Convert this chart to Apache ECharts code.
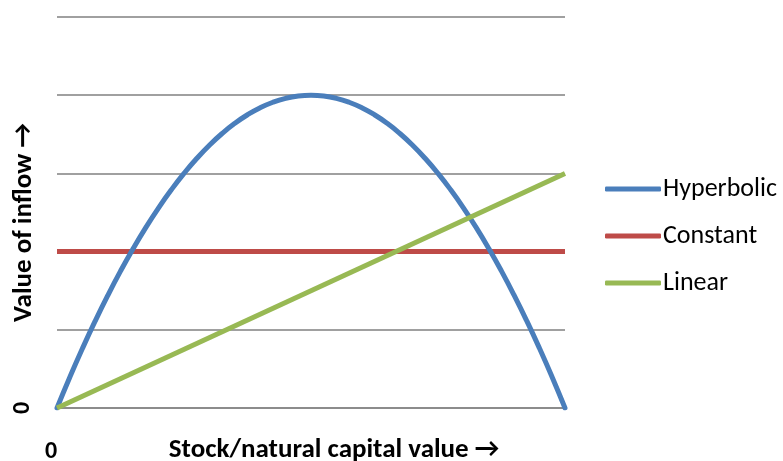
<!DOCTYPE html>
<html>
<head>
<meta charset="utf-8">
<style>
  html, body { margin: 0; padding: 0; background: #ffffff; }
  #chart { width: 783px; height: 461px; }
</style>
<script src="https://cdn.jsdelivr.net/npm/echarts@6/dist/echarts.min.js"></script>
</head>
<body>
<div id="chart"></div>
<script>
// Stock positions along the horizontal axis (0 = no stock, 40 = full stock)
const stock = [0, 1, 2, 3, 4, 5, 6, 7, 8, 9, 10, 11, 12, 13, 14, 15, 16, 17, 18, 19, 20,
               21, 22, 23, 24, 25, 26, 27, 28, 29, 30, 31, 32, 33, 34, 35, 36, 37, 38, 39, 40];

// Hyperbolic inflow: rises to a peak at mid stock, falls back to zero
const hyperbolic = [0, 0.39, 0.76, 1.11, 1.44, 1.75, 2.04, 2.31, 2.56, 2.79, 3.0,
                    3.19, 3.36, 3.51, 3.64, 3.75, 3.84, 3.91, 3.96, 3.99, 4.0,
                    3.99, 3.96, 3.91, 3.84, 3.75, 3.64, 3.51, 3.36, 3.19, 3.0,
                    2.79, 2.56, 2.31, 2.04, 1.75, 1.44, 1.11, 0.76, 0.39, 0];

// Straight-line models, given by their end points
const lineStock = [0, 40];
const constant = [2, 2];
const linear = [0, 3];

const seriesNames = ['Hyperbolic', 'Constant', 'Linear'];
const seriesColors = ['#4a7ebb', '#be4b48', '#98b954'];

function pairs(xs, ys) {
  return xs.map((x, i) => [x, ys[i]]);
}

const chart = echarts.init(document.getElementById('chart'), null, { renderer: 'canvas' });

const font = 'Carlito, Calibri, "Open Sans", "Liberation Sans", sans-serif';

chart.setOption({
  animation: false,
  grid: {
    left: 57, right: 218, top: 17, bottom: 53,
    containLabel: false,
    outerBoundsMode: 'none'
  },
  legend: {
    orient: 'vertical',
    left: 600,
    top: 171,
    icon: 'roundRect',
    itemWidth: 56,
    itemHeight: 5,
    itemGap: 21,
    textStyle: { fontFamily: font, fontSize: 26, lineHeight: 26, color: '#000', padding: [0, 0, 0, -3] },
    data: seriesNames
  },
  xAxis: {
    type: 'value',
    min: 0,
    max: 40,
    interval: 40,
    name: 'Stock/natural capital value \u2192',
    nameLocation: 'middle',
    nameGap: 29,
    nameMoveOverlap: false,
    nameTextStyle: {
      fontFamily: font, fontSize: 27, fontWeight: 'bold', color: '#000',
      padding: [0, 0, 0, 46]
    },
    axisLine: { show: true, lineStyle: { color: '#8c8c8c', width: 2 } },
    axisTick: { show: false },
    splitLine: { show: false },
    axisLabel: {
      margin: 32,
      fontFamily: font,
      fontSize: 24,
      fontWeight: 'bold',
      color: '#000',
      padding: [0, 12, 0, 0],
      formatter: v => (v === 0 ? '0' : '')
    }
  },
  yAxis: {
    type: 'value',
    min: 0,
    max: 5,
    interval: 1,
    name: 'Value of inflow \u2192',
    nameLocation: 'middle',
    nameGap: 19,
    nameRotate: 90,
    nameMoveOverlap: false,
    nameTextStyle: {
      fontFamily: font, fontSize: 27, fontWeight: 'bold', color: '#000',
      padding: [0, 20, 0, 0]
    },
    axisLine: { show: false },
    axisTick: { show: false },
    splitLine: { show: true, lineStyle: { color: '#a0a0a0', width: 2 } },
    axisLabel: {
      rotate: 90,
      margin: 22,
      fontFamily: font,
      fontSize: 24,
      fontWeight: 'bold',
      color: '#000',
      formatter: v => (v === 0 ? '0' : '')
    }
  },
  series: [
    {
      name: seriesNames[0], type: 'line', data: pairs(stock, hyperbolic), smooth: true,
      showSymbol: false, symbol: 'none', color: seriesColors[0],
      lineStyle: { width: 5, cap: 'round' }, z: 3
    },
    {
      name: seriesNames[1], type: 'line', data: pairs(lineStock, constant),
      showSymbol: false, symbol: 'none', color: seriesColors[1],
      lineStyle: { width: 5 }, z: 2
    },
    {
      name: seriesNames[2], type: 'line', data: pairs(lineStock, linear),
      showSymbol: false, symbol: 'none', color: seriesColors[2],
      lineStyle: { width: 5 }, z: 4
    }
  ]
});
</script>
</body>
</html>
